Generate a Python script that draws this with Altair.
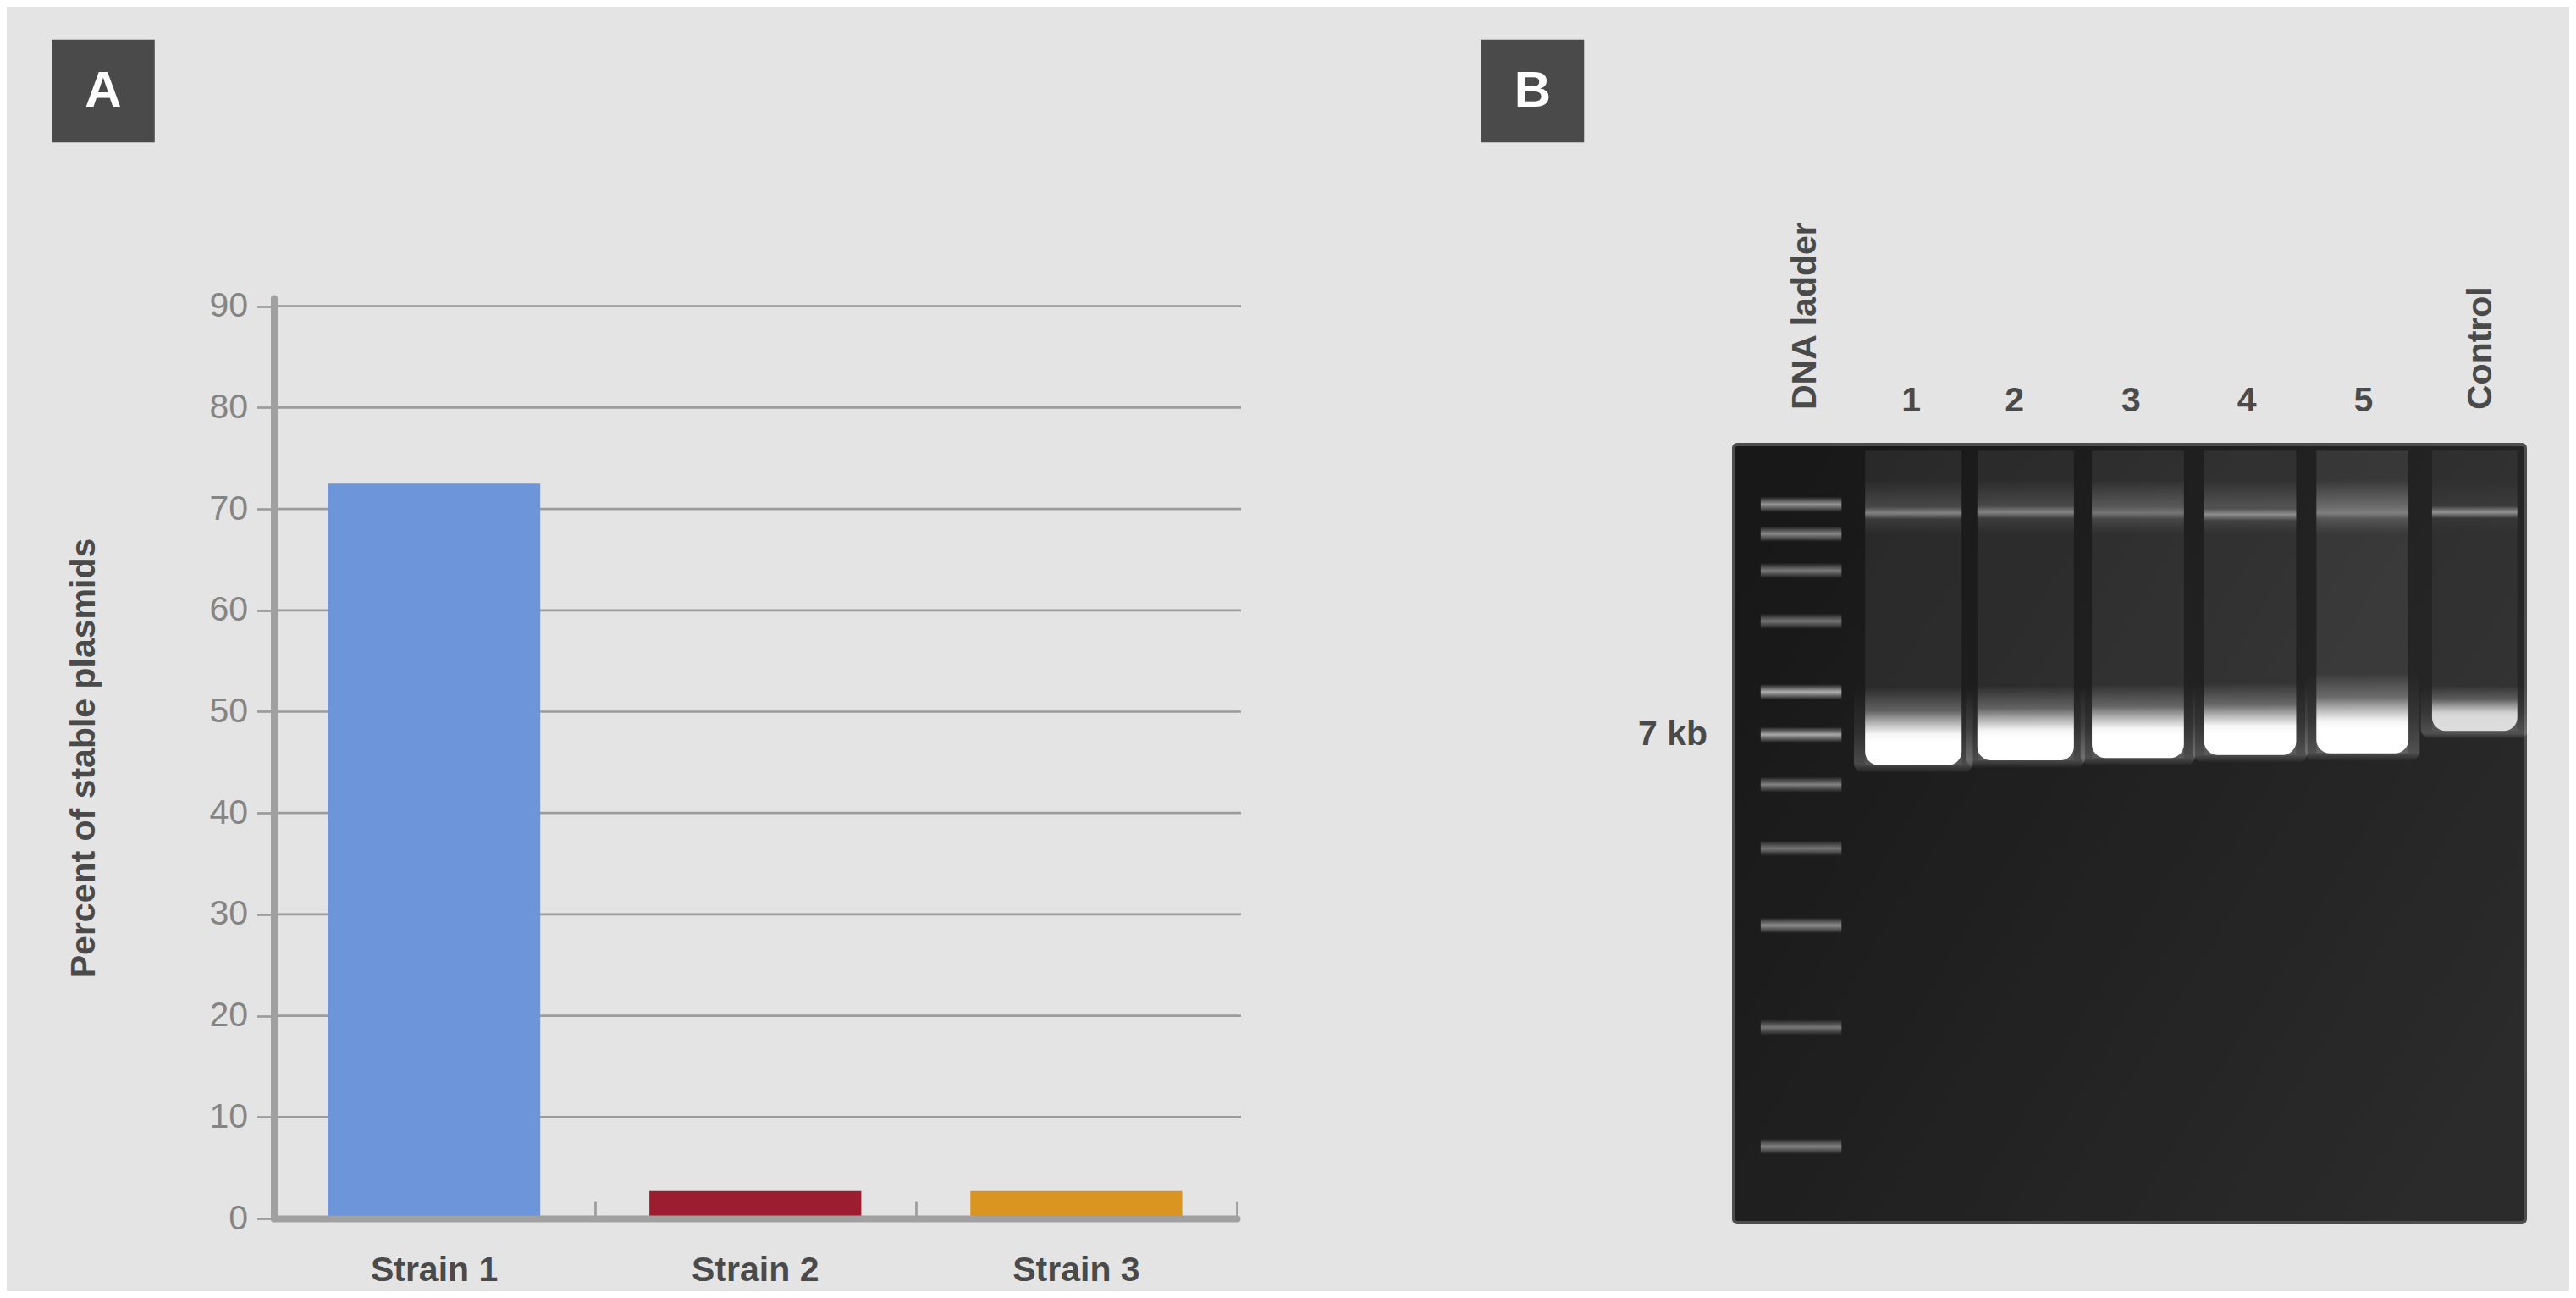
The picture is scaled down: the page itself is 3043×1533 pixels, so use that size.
import pandas as pd
import altair as alt

# ---- panel A: bar chart ----
strains = ["Strain 1", "Strain 2", "Strain 3"]
stable_pct = [72.5, 2.7, 2.7]
bar_colors = ["#6d95d9", "#9b1d2f", "#d9951f"]
y_ticks = [0, 10, 20, 30, 40, 50, 60, 70, 80, 90]

# ---- panel B: agarose gel ----
# x in lane units, y in % of gel length from the wells
lane_labels = ["DNA ladder", "1", "2", "3", "4", "5", "Control"]
lane_pos = [0, 1, 2, 3, 4, 5, 6]
label_pos = [0.04, 0.98, 1.9, 2.94, 3.97, 5.01, 6.06]

ladder_band = [7.7, 11.5, 16.2, 22.7, 31.8, 37.3, 43.7, 51.9, 61.8, 74.9, 90.2]
ladder_int = [0.55, 0.48, 0.42, 0.40, 0.65, 0.62, 0.45, 0.40, 0.50, 0.40, 0.45]

sample_pos = [1, 2, 3, 4, 5, 6]
sample_half = [0.43, 0.43, 0.41, 0.41, 0.41, 0.38]
upper_band = [8.8, 8.7, 8.8, 9.0, 8.8, 8.7]
upper_int = [0.35, 0.35, 0.22, 0.38, 0.2, 0.45]
haze_int = [0.14, 0.14, 0.2, 0.16, 0.26, 0.05]
smear_int = [0.07, 0.07, 0.08, 0.08, 0.10, 0.06]
glow_top = [31.2, 31.0, 30.8, 30.6, 29.4, 31.0]
band_bottom = [41.2, 40.6, 40.3, 39.9, 39.7, 36.8]
band_int = [1.0, 1.0, 1.0, 1.0, 1.0, 0.8]

marker_label = "7 kb"
marker_band = 5  # index into ladder_band

panel_tags = ["A", "B"]

FONT = "Liberation Sans"
TEXT = "#4a4a4a"
LINE = "#9c9c9c"
W, H = 3027, 1517

# ---------------- panel A ----------------
df_a = pd.DataFrame({"strain": strains, "pct": stable_pct})

bars_x = alt.Scale(domain=strains, range=[315.5, 1453], paddingInner=0.34, paddingOuter=0.17)
bars_y = alt.Scale(domain=[0, 90.8], range=[1431, 344.1], nice=False, zero=True)

y_axis = alt.Axis(
    orient="left",
    offset=-315.5,
    values=y_ticks,
    grid=False,
    domainColor="#a0a0a0",
    domainWidth=8,
    domainCap="round",
    tickColor=LINE,
    tickWidth=2.7,
    tickSize=20,
    labelFont=FONT,
    labelFontSize=41,
    labelColor="#858585",
    labelPadding=11,
    title="Percent of stable plasmids",
    titleFont=FONT,
    titleFontSize=41,
    titleFontWeight="bold",
    titleColor=TEXT,
    titleAngle=270,
    titleX=-212.5,
    titleY=887,
    titleAlign="center",
    titleBaseline="alphabetic",
    zindex=1,
)

grid = (
    alt.Chart(pd.DataFrame({"pct": y_ticks[1:]}))
    .mark_rule(color=LINE, strokeWidth=2.7)
    .encode(
        y=alt.Y("pct:Q", scale=bars_y, axis=y_axis),
        x=alt.value(315.5),
        x2=alt.value(1458),
    )
)

bars = (
    alt.Chart(df_a)
    .mark_bar()
    .encode(
        x=alt.X(
            "strain:N",
            sort=strains,
            scale=bars_x,
            axis=alt.Axis(
                orient="bottom",
                offset=-(H - 1431),
                labels=False,
                ticks=False,
                grid=False,
                title=None,
                domainColor="#a0a0a0",
                domainWidth=8,
                domainCap="round",
                zindex=1,
            ),
        ),
        y=alt.Y("pct:Q", scale=bars_y, axis=y_axis),
        color=alt.Color("strain:N", scale=alt.Scale(domain=strains, range=bar_colors), legend=None),
    )
)

panel_a = alt.layer(grid, bars)

# strain names, and the inward ticks between the bars
strain_text = (
    alt.Chart(df_a)
    .mark_text(font=FONT, fontSize=41, fontWeight="bold", color=TEXT, baseline="alphabetic")
    .encode(
        x=alt.X(
            "strain:N",
            sort=strains,
            scale=alt.Scale(type="band", domain=strains, range=[315.5, 1453], paddingInner=0, paddingOuter=0),
            axis=alt.Axis(
                orient="bottom",
                offset=-(H - 1411),
                tickBand="extent",
                tickSize=20,
                tickWidth=2.7,
                tickColor=LINE,
                labels=False,
                domain=False,
                grid=False,
                title=None,
            ),
        ),
        y=alt.value(1505),
        text="strain:N",
    )
)

# ---------------- panel B ----------------
gel_x = alt.Scale(domain=[-0.6, 6.45], range=[2040, 2975], nice=False, zero=False)
gel_y = alt.Scale(domain=[0, 100], range=[517, 1436], nice=False, zero=False)


def gx(field):
    return alt.X(field, scale=gel_x, axis=None)


def gy(field):
    return alt.Y(field, scale=gel_y, axis=None)


def vgrad(stops):
    return {
        "gradient": "linear", "x1": 0, "y1": 0, "x2": 0, "y2": 1,
        "stops": [{"offset": o, "color": f"rgba(255,255,255,{a})"} for o, a in stops],
    }


fuzzy = vgrad([(0, 0), (0.5, 1), (1, 0)])
band_glow = vgrad([(0, 0), (0.3, 0.22), (0.45, 0.6), (0.6, 0.95), (0.7, 1), (1, 1)])
halo_glow = vgrad([(0, 0), (0.5, 0.08), (0.9, 0.2), (1, 0)])

gel_bg = (
    alt.Chart(pd.DataFrame({"x": [-0.6], "x2": [6.45], "y": [0], "y2": [100]}))
    .mark_rect(
        fill={
            "gradient": "linear",
            "x1": 0, "y1": 0.2, "x2": 1, "y2": 0.8,
            "stops": [{"offset": 0, "color": "#181818"}, {"offset": 1, "color": "#2b2b2b"}],
        },
        stroke="#4d4d4d",
        strokeWidth=4,
        cornerRadius=4,
    )
    .encode(x=gx("x:Q"), x2="x2:Q", y=gy("y:Q"), y2="y2:Q")
)

df_s = pd.DataFrame({
    "lane": sample_pos, "half": sample_half, "upper": upper_band, "upper_int": upper_int,
    "haze": haze_int, "smear": smear_int, "glow": glow_top, "bottom": band_bottom,
    "band_int": band_int,
})
df_s["x1"] = df_s["lane"] - df_s["half"]
df_s["x2"] = df_s["lane"] + df_s["half"]
df_s["hx1"] = df_s["x1"] - 0.1
df_s["hx2"] = df_s["x2"] + 0.1
df_s["top"] = 0.8
df_s["haze_top"] = 4.5
df_s["haze_bot"] = 11.5
df_s["up1"] = df_s["upper"] - 0.8
df_s["up2"] = df_s["upper"] + 0.8
df_s["halo_bot"] = df_s["bottom"] + 1.0
df_s["one"] = 1.0


def gel_rect(y1, y2, op, wide=False, **kw):
    xa, xb = ("hx1", "hx2") if wide else ("x1", "x2")
    return (
        alt.Chart(df_s)
        .mark_rect(**kw)
        .encode(
            x=gx(f"{xa}:Q"), x2=f"{xb}:Q",
            y=gy(f"{y1}:Q"), y2=f"{y2}:Q",
            opacity=alt.Opacity(f"{op}:Q", scale=None, legend=None),
        )
    )


tracks = gel_rect("top", "bottom", "smear", color="white")
haze = gel_rect("haze_top", "haze_bot", "haze", fill=fuzzy)
upper = gel_rect("up1", "up2", "upper_int", fill=fuzzy)
halo = gel_rect("glow", "halo_bot", "one", wide=True, fill=halo_glow, cornerRadius=12)
main = gel_rect(
    "glow", "bottom", "band_int", fill=band_glow,
    cornerRadiusBottomLeft=16, cornerRadiusBottomRight=16,
)

df_l = pd.DataFrame({"y": ladder_band, "op": ladder_int})
df_l["lane"] = lane_pos[0]
df_l["x1"] = df_l["lane"] - 0.36
df_l["x2"] = df_l["lane"] + 0.36
df_l["y1"] = df_l["y"] - 1.0
df_l["y2"] = df_l["y"] + 1.0

ladder = (
    alt.Chart(df_l)
    .mark_rect(fill=fuzzy)
    .encode(
        x=gx("x1:Q"), x2="x2:Q", y=gy("y1:Q"), y2="y2:Q",
        opacity=alt.Opacity("op:Q", scale=None, legend=None),
    )
)

df_lanes = pd.DataFrame({"label": lane_labels, "pos": label_pos})
df_lanes["rotated"] = df_lanes["label"].str.len() > 1

lane_names = (
    alt.Chart(df_lanes)
    .transform_filter("datum.rotated")
    .mark_text(font=FONT, fontSize=41, fontWeight="bold", color=TEXT, angle=270, align="left", baseline="middle")
    .encode(x=gx("pos:Q"), y=alt.value(476), text="label:N")
)
lane_nums = (
    alt.Chart(df_lanes)
    .transform_filter("!datum.rotated")
    .mark_text(font=FONT, fontSize=41, fontWeight="bold", color=TEXT, align="center", baseline="alphabetic")
    .encode(x=gx("pos:Q"), y=alt.value(478), text="label:N")
)

marker = (
    alt.Chart(pd.DataFrame({"label": [marker_label], "y": [ladder_band[marker_band]]}))
    .mark_text(font=FONT, fontSize=41, fontWeight="bold", color=TEXT, align="right", baseline="middle")
    .encode(x=alt.value(2009), y=gy("y:Q"), text="label:N")
)

gel = alt.layer(gel_bg, tracks, haze, upper, halo, main, ladder, lane_names, lane_nums, marker)

# ---------------- panel tags ----------------
df_tags = pd.DataFrame({"tag": panel_tags})
tag_x = alt.X("tag:N", scale=alt.Scale(type="point", domain=panel_tags, range=[114, 1802.5], padding=0), axis=None)

tag_box = (
    alt.Chart(df_tags)
    .mark_square(size=121.5 ** 2, color="#4a4a4a", opacity=1, strokeWidth=0)
    .encode(x=tag_x, y=alt.value(99.5))
)
tag_text = (
    alt.Chart(df_tags)
    .mark_text(font=FONT, fontSize=60, fontWeight="bold", color="white", baseline="middle")
    .encode(x=tag_x, y=alt.value(100), text="tag:N")
)
tags = alt.layer(tag_box, tag_text)

chart = (
    alt.layer(panel_a, strain_text, gel, tags)
    .resolve_scale(x="independent", y="independent")
    .properties(width=W, height=H, background="#e4e4e4", padding=0, autosize="none")
    .configure_view(stroke=None)
)

chart.save("out.html", embed_options={"renderer": "svg", "actions": False})
